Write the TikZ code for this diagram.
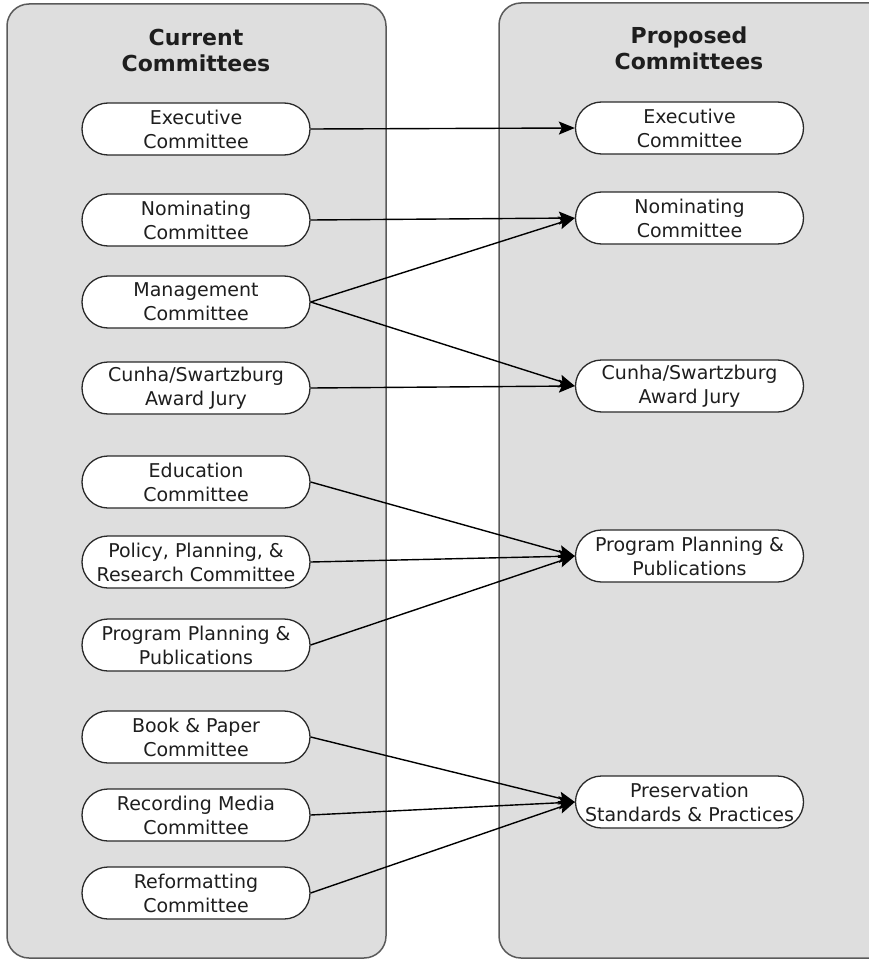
\documentclass[tikz,border=0pt]{standalone}
\usepackage{fontspec}
\setmainfont{DejaVu Sans}
\usetikzlibrary{arrows.meta}
\definecolor{panelfill}{HTML}{DEDEDE}
\definecolor{panelline}{HTML}{5A5A5A}
\definecolor{boxline}{HTML}{2A2A2A}
\definecolor{txt}{HTML}{1E1E1E}
\tikzset{
  panel/.style={draw=panelline, fill=panelfill, line width=1.5pt, rounded corners=22pt},
  paneledge/.style={draw=panelline, line width=1.5pt, rounded corners=22pt},
  cbox/.style={draw=boxline, fill=white, line width=1.3pt, rounded corners=26pt,
    minimum width=228pt, minimum height=52pt, inner sep=0pt, align=center,
    text=txt, font=\fontsize{19}{24}\selectfont},
  title/.style={align=center, text=txt, font=\bfseries\fontsize{22}{26}\selectfont},
  conn/.style={draw=black, line width=1.4pt, -{Stealth[length=16pt,width=13pt,inset=3pt]}}
}
\begin{document}
\begin{tikzpicture}[x=1pt,y=-1pt]
\useasboundingbox (0,0) rectangle (868,960);
% left panel
\draw[panel] (7,4) rectangle (386,958);
% right panel (runs past the right edge)
\fill[panelfill, rounded corners=22pt] (499,3) rectangle (910,958);
\draw[paneledge] (910,3) -- (499,3) -- (499,958) -- (910,958);
% titles
\node[title] (tl) at (196,50) {Current\\Committees};
\node[title] (tr) at (689,48) {Proposed\\Committees};
% left
\node[cbox] (lexe) at (196,129) {Executive\\Committee};
\node[cbox] (lnom) at (196,220) {Nominating\\Committee};
\node[cbox] (lman) at (196,302) {Management\\Committee};
\node[cbox] (lcun) at (196,388) {Cunha/Swartzburg\\Award Jury};
\node[cbox] (ledu) at (196,482) {Education\\Committee};
\node[cbox] (lpol) at (196,562) {Policy, Planning, \&\\Research Committee};
\node[cbox] (lprg) at (196,645) {Program Planning \&\\Publications};
\node[cbox] (lbok) at (196,737) {Book \& Paper\\Committee};
\node[cbox] (lrec) at (196,815) {Recording Media\\Committee};
\node[cbox] (lref) at (196,893) {Reformatting\\Committee};
% right
\node[cbox] (rexe) at (689.5,128) {Executive\\Committee};
\node[cbox] (rnom) at (689.5,218) {Nominating\\Committee};
\node[cbox] (rcun) at (689.5,386) {Cunha/Swartzburg\\Award Jury};
\node[cbox] (rprg) at (689.5,556) {Program Planning \&\\Publications};
\node[cbox] (rpre) at (689.5,802) {Preservation\\Standards \& Practices};
% connectors
\draw[conn] (lexe.east) -- (rexe.west);
\draw[conn] (lnom.east) -- (rnom.west);
\draw[conn] (lman.east) -- (rnom.west);
\draw[conn] (lman.east) -- (rcun.west);
\draw[conn] (lcun.east) -- (rcun.west);
\draw[conn] (ledu.east) -- (rprg.west);
\draw[conn] (lpol.east) -- (rprg.west);
\draw[conn] (lprg.east) -- (rprg.west);
\draw[conn] (lbok.east) -- (rpre.west);
\draw[conn] (lrec.east) -- (rpre.west);
\draw[conn] (lref.east) -- (rpre.west);
\end{tikzpicture}
\end{document}
